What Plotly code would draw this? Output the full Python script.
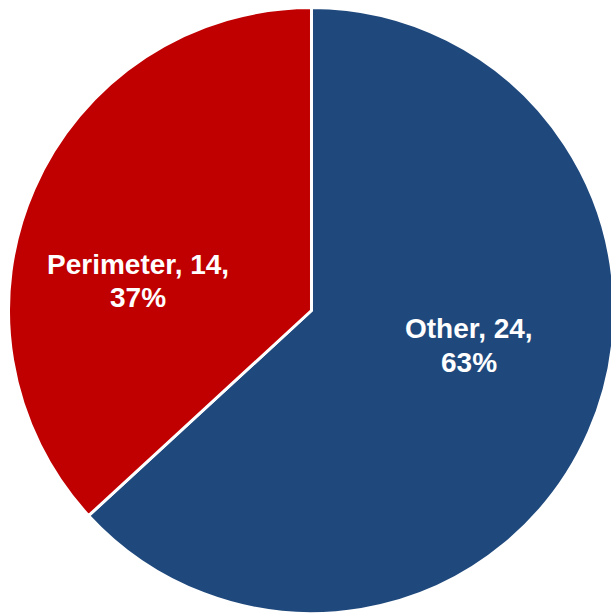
import plotly.graph_objects as go

labels = ["Other", "Perimeter"]
values = [24, 14]
colors = ["#1F497D", "#C00000"]

total = sum(values)
# label placement (paper coords) for each slice: x, y of first line, y of second line
label_pos = {"Other": (0.7565, 0.4642, 0.4104), "Perimeter": (0.2218, 0.570, 0.5147)}

fig = go.Figure(go.Pie(
    labels=labels,
    values=values,
    sort=False,
    direction="clockwise",
    rotation=0,
    marker=dict(colors=colors, line=dict(color="white", width=3)),
    textinfo="none",
    hoverinfo="none",
    showlegend=False,
    domain=dict(x=[0.0137, 0.9911], y=[0.0, 0.9886]),
))

font = dict(family="Liberation Sans, Arial", size=28, color="white")
for lab, val in zip(labels, values):
    x, y1, y2 = label_pos[lab]
    pct = round(100 * val / total)
    fig.add_annotation(x=x, y=y1, xref="paper", yref="paper", showarrow=False,
                       text=f"<b>{lab}, {val},</b>", font=font,
                       xanchor="center", yanchor="middle")
    fig.add_annotation(x=x, y=y2, xref="paper", yref="paper", showarrow=False,
                       text=f"<b>{pct}%</b>", font=font,
                       xanchor="center", yanchor="middle")

fig.update_layout(
    width=620,
    height=614,
    margin=dict(l=0, r=0, t=0, b=0),
    paper_bgcolor="white",
    plot_bgcolor="white",
)

fig.write_html(
    "out.html",
    config={"displayModeBar": False},
    post_script="document.documentElement.style.overflow='hidden';"
                "document.body.style.overflow='hidden';"
                "document.body.style.margin='0';",
)
